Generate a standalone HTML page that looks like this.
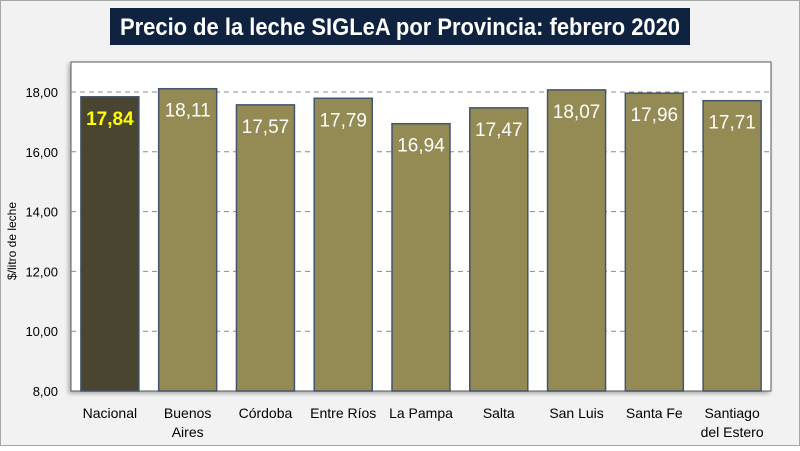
<!DOCTYPE html>
<html><head><meta charset="utf-8"><style>
body{margin:0;width:800px;height:446px;overflow:hidden;background:#fff;font-family:"Liberation Sans",sans-serif}
</style></head><body>
<svg width="800" height="446" xmlns="http://www.w3.org/2000/svg">
<rect x="0.5" y="0.5" width="799" height="445" fill="#f2f2f2" stroke="#a6a6a6"/>
<rect x="110" y="8" width="580" height="37" fill="#0f2340"/>
<text x="400" y="35" text-anchor="middle" fill="#fff" font-size="24" font-weight="bold" textLength="560" lengthAdjust="spacingAndGlyphs">Precio de la leche SIGLeA por Provincia: febrero 2020</text>
<rect x="71" y="62" width="700" height="329" fill="#fff" stroke="#595959" stroke-width="1" style="filter:drop-shadow(-2px 2px 2px rgba(0,0,0,0.3))"/>
<text transform="translate(16,241) rotate(-90)" text-anchor="middle" font-size="12" fill="#000">$/litro de leche</text>
<g id="grid"></g><g id="bars"></g><g id="labels"></g>
</svg>
<script>
const categories=["Nacional","Buenos|Aires","Córdoba","Entre Ríos","La Pampa","Salta","San Luis","Santa Fe","Santiago|del Estero"];
const values=[17.84,18.11,17.57,17.79,16.94,17.47,18.07,17.96,17.71];
const valueLabels=["17,84","18,11","17,57","17,79","16,94","17,47","18,07","17,96","17,71"];
const yTicks=[8,10,12,14,16,18];
const yTickLabels=["8,00","10,00","12,00","14,00","16,00","18,00"];
const NS="http://www.w3.org/2000/svg";
const x0=71,x1=771,yTop=62,yBot=391;
const y=v=>391-(v-8)*(299/10);
const band=(x1-x0)/categories.length;
const bx=i=>x0+band*i+band/2;
function mk(t,a,p){const e=document.createElementNS(NS,t);for(const k in a)e.setAttribute(k,a[k]);p.appendChild(e);return e;}
const g=document.getElementById('grid'),b=document.getElementById('bars'),l=document.getElementById('labels');
yTicks.forEach((t,i)=>{
 if(t>8){const ln=mk('line',{x1:x0,x2:x1,y1:y(t),y2:y(t),stroke:'#8c8c8c','stroke-dasharray':'5,4'},g);
 
 }
 const tx=mk('text',{x:58,y:y(t)+5,'text-anchor':'end','font-size':'13',fill:'#000'},g);
 tx.textContent=yTickLabels[i];
 
 
});
categories.forEach((c,i)=>{
 const v=values[i];
 const r=mk('rect',{x:bx(i)-29,y:y(v),width:58,height:y(8)-y(v),fill:i==0?'#4a4530':'#948a54',stroke:'#44546a','stroke-width':'1.5'},b);
 
 
 const t=mk('text',{x:bx(i),y:y(v)+28,'text-anchor':'middle','font-size':'19',fill:i==0?'#ffff00':'#fff','font-weight':i==0?'bold':'normal'},l);
 t.textContent=valueLabels[i];
 
 
 const parts=c.split('|');
 parts.forEach((p,j)=>{
  const ct=mk('text',{x:bx(i),y:418+j*19,'text-anchor':'middle','font-size':'14',fill:'#000'},l);
  ct.textContent=p;
  
  
 });
});
</script>
</body></html>
